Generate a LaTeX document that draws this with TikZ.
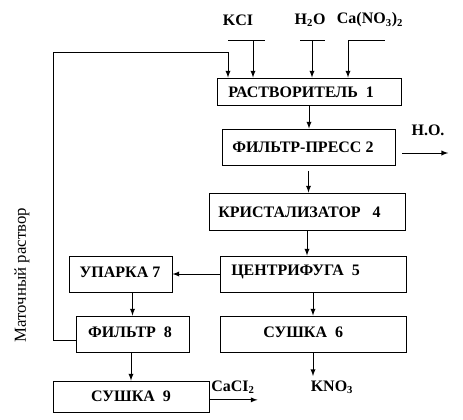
\documentclass[tikz,border=0pt]{standalone}
\usepackage{fontspec}
\setmainfont{Liberation Serif}
\usepackage{tikz}

\tikzset{
	box/.style={draw,line width=0.75pt,inner sep=0pt},
	lbl/.style={font=\fontsize{12}{14}\selectfont\bfseries,inner sep=0pt},
	arr/.style={-latex,line width=0.75pt},
	ln/.style={line width=0.75pt}
}

\begin{document}
\begin{tikzpicture}[x=0.75pt,y=-0.75pt]
				\useasboundingbox (0,0) rectangle (463,419);
				% the apparatus
				\node[box,minimum width=138pt,minimum height=20.25pt] (rast) at (309,91.5) {};
				\node[lbl,anchor=west] (trast) at (228,92) {РАСТВОРИТЕЛЬ~~1};
				\node[box,minimum width=129.75pt,minimum height=27pt] (press) at (308.5,147) {};
				\node[lbl,anchor=west] (tpress) at (232,147) {ФИЛЬТР-ПРЕСС 2};
				\node[box,minimum width=147pt,minimum height=27.75pt] (krist) at (307,211.5) {};
				\node[lbl,anchor=west] (tkrist) at (218,212) {КРИСТАЛИЗАТОР~~~4};
				\node[box,minimum width=139.5pt,minimum height=27pt] (centr) at (313,274) {};
				\node[lbl,anchor=west] (tcentr) at (231,272) {ЦЕНТРИФУГА~~5};
				\node[box,minimum width=139.5pt,minimum height=27pt] (sush6) at (313,334) {};
				\node[lbl,anchor=west] (tsush6) at (263,332) {СУШКА~~6};
				\node[box,minimum width=77.25pt,minimum height=27pt] (upar) at (120.5,274) {};
				\node[lbl] (tupar) at (120,272) {УПАРКА 7};
				\node[box,minimum width=84.75pt,minimum height=27pt] (filt) at (132.5,334) {};
				\node[lbl] (tfilt) at (130,332) {ФИЛЬТР~~8};
				\node[box,minimum width=117pt,minimum height=23.25pt] (sush9) at (131,396.5) {};
				\node[lbl] (tsush9) at (131,396) {СУШКА~~9};
				% feeds
				\node[lbl] (kcl) at (238,20) {KCI};
				\node[lbl] (water) at (310,20) {H\textsubscript{2}O};
				\node[lbl] (nitr) at (370,20) {Ca(NO\textsubscript{3})\textsubscript{2}};
				\coordinate (in1) at (253,40);
				\coordinate (in2) at (312,40);
				\coordinate (in3) at (348,40);
				\draw[ln] (228,40) -- (265,40);
				\draw[ln] (300,40) -- (325,40);
				\draw[ln] (348,40) -- (385,40);
				\draw[arr] (in1) -- (in1 |- rast.north);
				\draw[arr] (in2) -- (in2 |- rast.north);
				\draw[arr] (in3) -- (in3 |- rast.north);
				% main line
				\draw[arr] (rast.south) -- (rast.south |- press.north);
				\draw[arr] ([yshift=-4pt]press.south) -- (press.south |- krist.north);
				\draw[arr] (krist.south) -- (krist.south |- centr.north);
				\draw[arr] (centr.south) -- (sush6.north);
				\draw[arr] (centr.west) -- (upar.east);
				\draw[arr] (filt.north |- upar.south) -- (filt.north);
				\draw[arr] (sush9.north |- filt.south) -- (sush9.north);
				% products
				\node[lbl] (ho) at (428,130) {Н.О.};
				\draw[arr] ([xshift=5pt,yshift=-4.5pt]press.east) -- ++(46,0);
				\node[lbl] (kno) at (332,387) {KNO\textsubscript{3}};
				\coordinate (out6) at (310,376);
				\draw[arr] (sush6.south) -- (sush6.south |- out6);
				\node[lbl] (cacl) at (233,387) {CaCI\textsubscript{2}};
				\draw[arr] ([yshift=-2.5pt]sush9.east) -- ++(48,0);
				% mother liquor back to the dissolver
				\coordinate (r1) at (53,52);
				\coordinate (r2) at (228,52);
				\draw[arr] ([yshift=-4.5pt]filt.west) -| (r1) -- (r2) -- (r2 |- rast.north);
				\node[rotate=90,font=\fontsize{12.6}{14}\selectfont] (liq) at (22,275) {Маточный раствор};
			\end{tikzpicture}
\end{document}
